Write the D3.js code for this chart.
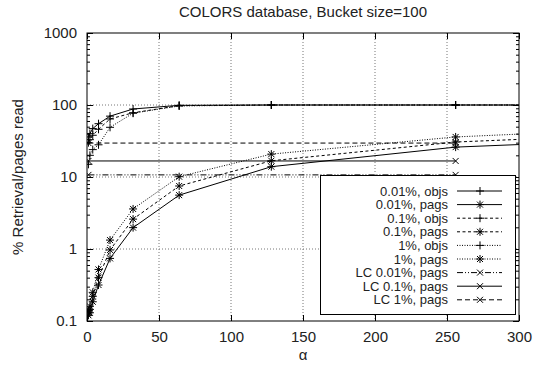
<!DOCTYPE html>
<html><head><meta charset="utf-8">
<script src="https://cdn.jsdelivr.net/npm/d3@7"></script>
<style>body{margin:0;background:#fff}svg{display:block}text{font-family:"Liberation Sans",Arial,sans-serif;fill:#222}</style>
</head><body><svg id="c" width="534" height="371"></svg>
<script>
const alphaPags = [1, 2, 4, 8, 16, 32, 64, 128, 256, 512];
const alphaObjs = [1, 2, 4, 8, 16, 32, 64, 128, 256, 512];
const alphaLC = [1, 256];
const objs001 = [36, 40, 47, 55, 70, 88, 99, 100, 100, 100];
const objs01  = [30, 33, 38, 46, 64, 78, 98, 100, 100, 100];
const objs1   = [15, 20, 24, 28, 49, 77, 97, 100, 100, 100];
const pags001 = [0.12, 0.13, 0.185, 0.316, 0.74, 1.98, 5.6, 13.9, 26, 42];
const pags01  = [0.13, 0.145, 0.22, 0.40, 0.97, 2.6, 7.5, 16.8, 30.6, 50];
const pags1   = [0.14, 0.16, 0.25, 0.52, 1.33, 3.6, 10.1, 20.8, 36, 61];
const lc001 = [10.7, 10.7];
const lc01  = [16.7, 16.7];
const lc1   = [29.6, 29.6];
const xTicks = [0, 50, 100, 150, 200, 250, 300];
const yTicks = [0.1, 1, 10, 100, 1000];
const yTickLabels = ["0.1", "1", "10", "100", "1000"];
const seriesNames = ["0.01%, objs","0.01%, pags","0.1%, objs","0.1%, pags","1%, objs","1%, pags","LC 0.01%, pags","LC 0.1%, pags","LC 1%, pags"];
const titleText = "COLORS database, Bucket size=100";
const xLabel = "\u03b1";
const yLabel = "% Retrieval/pages read";

const L = 87, R = 519, T = 33, B = 321;
const svg = d3.select("#c");
const x = d3.scaleLinear().domain([0, 300]).range([L, R]);
const y = d3.scaleLog().domain([0.1, 1000]).range([B, T]);

svg.append("defs").append("clipPath").attr("id","clip")
  .append("rect").attr("x",L).attr("y",T).attr("width",R-L).attr("height",B-T);

// grid
const grid = svg.append("g").attr("stroke","#777").attr("stroke-width",1).attr("stroke-dasharray","1,2");
xTicks.filter(d=>d>0&&d<300).forEach(d=>grid.append("line").attr("x1",x(d)).attr("x2",x(d)).attr("y1",T).attr("y2",B));
yTicks.filter(d=>d>0.1&&d<1000).forEach(d=>grid.append("line").attr("x1",L).attr("x2",R).attr("y1",y(d)).attr("y2",y(d)));

// axes
const fmtY = d => yTickLabels[yTicks.indexOf(d)];
const ax = svg.append("g").attr("font-size",15);
function style(g){ g.select(".domain").remove(); g.selectAll("line").attr("stroke","#000"); g.selectAll("text").attr("font-family","Liberation Sans, Arial, sans-serif").attr("fill","#222").attr("font-size",15); }
ax.append("g").attr("transform",`translate(0,${B})`).call(d3.axisBottom(x).tickValues(xTicks).tickSizeInner(-6).tickSizeOuter(0).tickPadding(10).tickFormat(d3.format("d"))).call(style);
ax.append("g").attr("transform",`translate(0,${T})`).call(d3.axisTop(x).tickValues(xTicks).tickSizeInner(-6).tickSizeOuter(0).tickFormat("")).call(style);
ax.append("g").attr("transform",`translate(${L},0)`).call(d3.axisLeft(y).tickValues(yTicks).tickSizeInner(-6).tickSizeOuter(0).tickPadding(10).tickFormat(fmtY)).call(style);
ax.append("g").attr("transform",`translate(${R},0)`).call(d3.axisRight(y).tickValues(yTicks).tickSizeInner(-6).tickSizeOuter(0).tickFormat("")).call(style);
const minors = [];
[0.1,1,10,100].forEach(d=>{for(let k=2;k<=9;k++) minors.push(d*k);});
ax.append("g").attr("transform",`translate(${L},0)`).call(d3.axisLeft(y).tickValues(minors).tickSizeInner(-3).tickSizeOuter(0).tickFormat("")).call(style);
ax.append("g").attr("transform",`translate(${R},0)`).call(d3.axisRight(y).tickValues(minors).tickSizeInner(-3).tickSizeOuter(0).tickFormat("")).call(style);

// series
const series = [
  {name:seriesNames[0], xs:alphaObjs, ys:objs001, dash:null, mk:"plus"},
  {name:seriesNames[1], xs:alphaPags, ys:pags001, dash:null, mk:"star"},
  {name:seriesNames[2], xs:alphaObjs, ys:objs01, dash:"3,2.5", mk:"plus"},
  {name:seriesNames[3], xs:alphaPags, ys:pags01, dash:"3,2.5", mk:"star"},
  {name:seriesNames[4], xs:alphaObjs, ys:objs1, dash:"1,1.5", mk:"plus"},
  {name:seriesNames[5], xs:alphaPags, ys:pags1, dash:"1,1.5", mk:"star"},
  {name:seriesNames[6], xs:alphaLC, ys:lc001, dash:"6,2,1,2,1,2", mk:"cross"},
  {name:seriesNames[7], xs:alphaLC, ys:lc01, dash:null, mk:"cross"},
  {name:seriesNames[8], xs:alphaLC, ys:lc1, dash:"5,3", mk:"cross"}
];
function marker(g, cx, cy, type){
  const s = 4, c = 3;
  let p = "";
  if (type==="plus"||type==="star") p += `M${cx-s},${cy}H${cx+s}M${cx},${cy-s}V${cy+s}`;
  if (type==="cross"||type==="star") p += `M${cx-c},${cy-c}L${cx+c},${cy+c}M${cx-c},${cy+c}L${cx+c},${cy-c}`;
  g.append("path").attr("d",p).attr("stroke","#000").attr("stroke-width",1).attr("fill","none");
}
const plot = svg.append("g").attr("clip-path","url(#clip)");
const line = d3.line().x(d=>x(d[0])).y(d=>y(d[1]));
series.forEach(s=>{
  const pts = s.xs.map((a,i)=>[a,s.ys[i]]);
  plot.append("path").attr("d",line(pts)).attr("fill","none").attr("stroke","#000").attr("stroke-width",1)
    .attr("stroke-dasharray",s.dash);
  pts.filter(p=>p[0]<=300).forEach(p=>marker(plot,x(p[0]),y(p[1]),s.mk));
});

// frame
svg.append("rect").attr("x",L).attr("y",T).attr("width",R-L).attr("height",B-T).attr("fill","none").attr("stroke","#000");

// legend
const lg = svg.append("g");
lg.append("rect").attr("x",320.5).attr("y",175.5).attr("width",195).attr("height",139).attr("fill","#fff").attr("stroke","#000");
series.forEach((s,i)=>{
  const ly = 191 + i*13.6;
  lg.append("text").attr("x",448).attr("y",ly).attr("dy","0.35em").attr("text-anchor","end").attr("font-size",13).text(s.name);
  lg.append("line").attr("x1",457).attr("x2",502).attr("y1",ly).attr("y2",ly).attr("stroke","#000").attr("stroke-dasharray",s.dash);
  marker(lg,480,ly,s.mk);
});

// titles
svg.append("text").attr("x",(L+R)/2).attr("y",17).attr("text-anchor","middle").attr("font-size",15).text(titleText);
svg.append("text").attr("x",(L+R)/2).attr("y",360).attr("text-anchor","middle").attr("font-size",15).text(xLabel);
svg.append("text").attr("transform",`translate(23,${(T+B)/2}) rotate(-90)`).attr("text-anchor","middle").attr("font-size",15).text(yLabel);
</script></body></html>
